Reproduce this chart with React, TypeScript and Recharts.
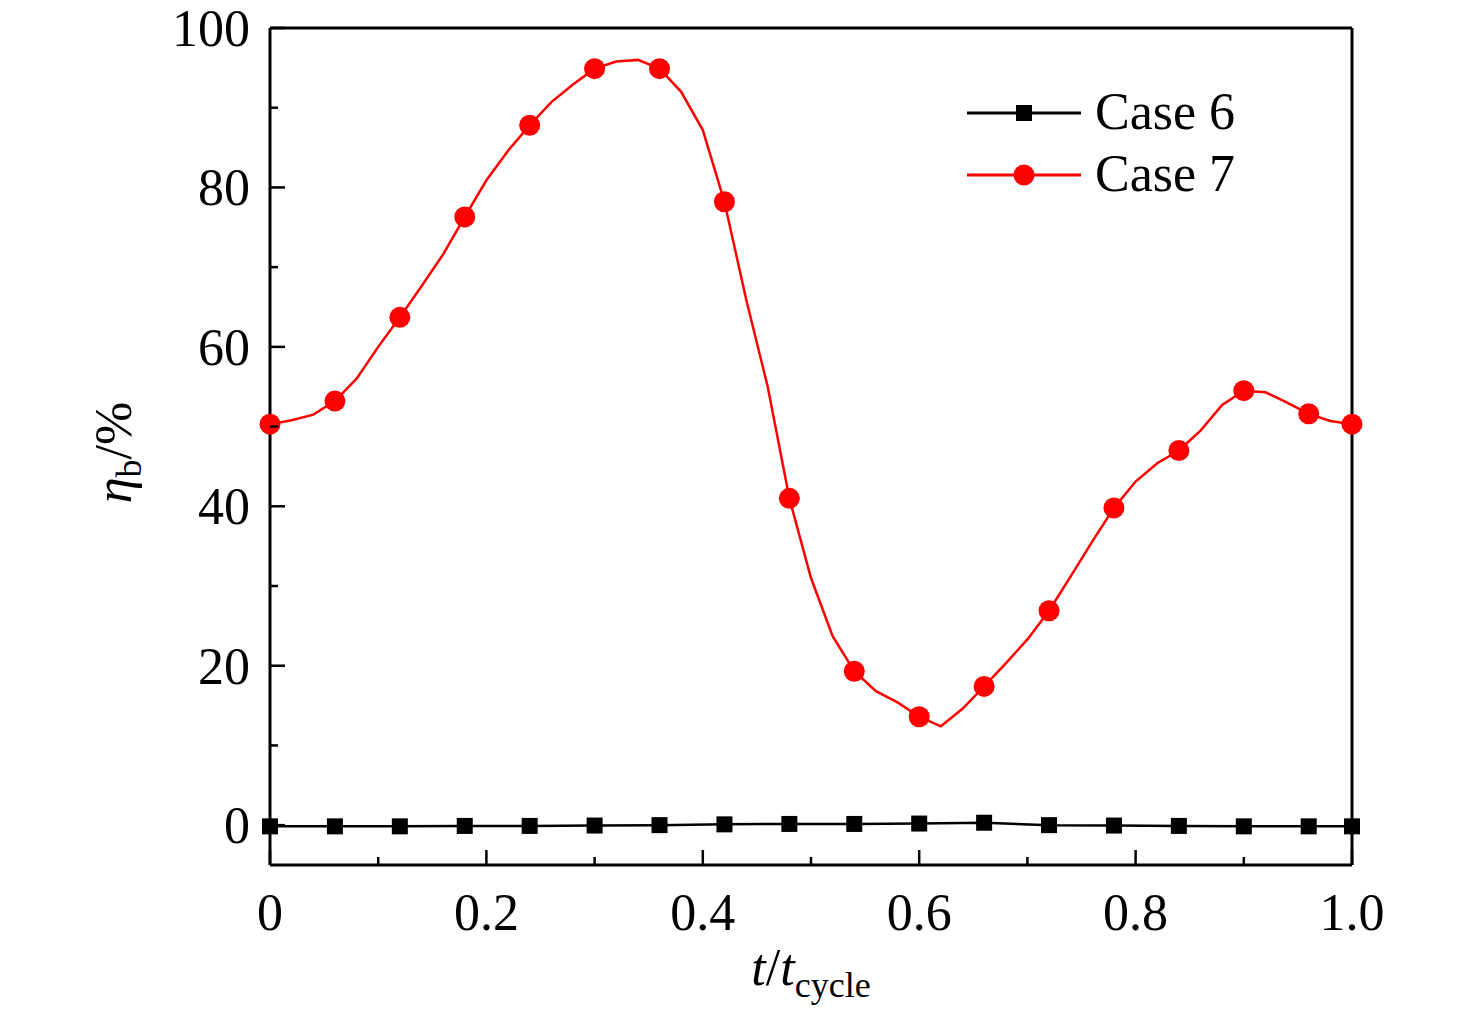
import { Legend, Line, LineChart, XAxis, YAxis } from "recharts";

const FONT = "'Liberation Serif', 'Times New Roman', serif";

// t/t_cycle sample points of the curves
const tCycle = [
  0, 0.02, 0.04, 0.06, 0.08, 0.1, 0.12, 0.14, 0.16, 0.18, 0.2, 0.22, 0.24, 0.26, 0.28, 0.3, 0.32,
  0.34, 0.36, 0.38, 0.4, 0.42, 0.44, 0.46, 0.48, 0.5, 0.52, 0.54, 0.56, 0.58, 0.6, 0.62, 0.64,
  0.66, 0.68, 0.7, 0.72, 0.74, 0.76, 0.78, 0.8, 0.82, 0.84, 0.86, 0.88, 0.9, 0.92, 0.94, 0.96,
  0.98, 1.0,
];

// points that carry a marker
const markerT = [
  0, 0.06, 0.12, 0.18, 0.24, 0.3, 0.36, 0.42, 0.48, 0.54, 0.6, 0.66, 0.72, 0.78, 0.84, 0.9, 0.96, 1.0,
];

const case6 = [
  -0.15, -0.15, -0.15, -0.1, -0.1, -0.05, 0, 0.1, 0.15, 0.15, 0.2, 0.3, 0, -0.05, -0.1, -0.15, -0.15,
  -0.15,
];

const case7 = [
  50.3, 50.8, 51.5, 53.2, 56.0, 60.0, 63.7, 67.6, 71.6, 76.3, 80.9, 84.6, 87.8, 90.7, 92.9, 94.9,
  95.8, 96.0, 94.9, 92.0, 87.2, 78.2, 66.0, 55.0, 41.0, 31.0, 23.7, 19.3, 16.8, 15.4, 13.6, 12.4,
  14.6, 17.4, 20.3, 23.3, 26.9, 31.2, 35.6, 39.8, 43.1, 45.4, 47.0, 49.5, 52.7, 54.5, 54.3, 53.0,
  51.6, 50.7, 50.3,
];

const xTicks = [0, 0.1, 0.2, 0.3, 0.4, 0.5, 0.6, 0.7, 0.8, 0.9, 1.0];
const xLabels: Record<string, string> = { "0": "0", "0.2": "0.2", "0.4": "0.4", "0.6": "0.6", "0.8": "0.8", "1": "1.0" };
const yTicks = [0, 10, 20, 30, 40, 50, 60, 70, 80, 90, 100];
const yLabels = [0, 20, 40, 60, 80, 100];

const seriesNames = ["Case 6", "Case 7"];
const seriesColors = ["#000000", "#ff0000"];

const data = tCycle.map((t, i) => {
  const m = markerT.indexOf(t);
  return { t, case6: m >= 0 ? case6[m] : null, case7: case7[i] };
});

const XTick = (props: any) => {
  const { x, y, payload } = props;
  const label = xLabels[String(payload.value)];
  return (
    <g>
      <line x1={x} y1={y} x2={x} y2={y - (label ? 15 : 8)} stroke="#000" strokeWidth={2.5} />
      {label && (
        <text x={x} y={y + 65} textAnchor="middle" fontFamily={FONT} fontSize={52} fill="#000">
          {label}
        </text>
      )}
    </g>
  );
};

const YTick = (props: any) => {
  const { x, y, payload } = props;
  const major = yLabels.includes(payload.value);
  return (
    <g>
      <line x1={x} y1={y} x2={x + (major ? 15 : 8)} y2={y} stroke="#000" strokeWidth={2.5} />
      {major && (
        <text x={x - 20} y={y + 18} textAnchor="end" fontFamily={FONT} fontSize={52} fill="#000">
          {payload.value}
        </text>
      )}
    </g>
  );
};

const XTitle = (props: any) => {
  const { viewBox } = props;
  const cx = viewBox.x + viewBox.width / 2;
  return (
    <text x={cx} y={985} textAnchor="middle" fontFamily={FONT} fontSize={52} fill="#000">
      <tspan fontStyle="italic">t</tspan>
      <tspan>/</tspan>
      <tspan fontStyle="italic">t</tspan>
      <tspan fontSize={36} dy={12}>cycle</tspan>
    </text>
  );
};

const YTitle = (props: any) => {
  const { viewBox } = props;
  const cy = viewBox.y + viewBox.height / 2 + 6;
  return (
    <text
      x={131}
      y={cy}
      transform={`rotate(-90, 131, ${cy})`}
      textAnchor="middle"
      fontFamily={FONT}
      fontSize={52}
      fill="#000"
    >
      <tspan fontStyle="italic">η</tspan>
      <tspan fontSize={36} dy={10}>b</tspan>
      <tspan dy={-10}>/%</tspan>
    </text>
  );
};

const circleDot = (props: any) => {
  const { cx, cy, payload, index } = props;
  if (cx == null || cy == null || !markerT.includes(payload.t)) return <g key={index} />;
  return <circle key={index} cx={cx} cy={cy} r={10.5} fill="#ff0000" />;
};

const squareDot = (props: any) => {
  const { cx, cy, index } = props;
  if (cx == null || cy == null) return <g key={index} />;
  return <rect key={index} x={cx - 8} y={cy - 8} width={16} height={16} fill="#000" />;
};

const LegendBox = () => (
  <svg width={320} height={140}>
    {seriesNames.map((name, i) => {
      const y = 43 + i * 62;
      return (
        <g key={name}>
          <line x1={7} y1={y} x2={121} y2={y} stroke={seriesColors[i]} strokeWidth={3} />
          {i === 0 ? (
            <rect x={56} y={y - 8} width={16} height={16} fill={seriesColors[i]} />
          ) : (
            <circle cx={64} cy={y} r={10.5} fill={seriesColors[i]} />
          )}
          <text x={135} y={y + 16} fontFamily={FONT} fontSize={52} fill="#000">
            {name}
          </text>
        </g>
      );
    })}
  </svg>
);

export default function App() {
  return (
    <div style={{ position: "absolute", left: 0, top: 0, background: "#fff" }}>
      <LineChart width={1476} height={1016} data={data} margin={{ top: 0, right: 0, bottom: 0, left: 0 }}>
        <XAxis
          dataKey="t"
          type="number"
          domain={[0, 1]}
          ticks={xTicks}
          interval={0}
          tick={<XTick />}
          tickLine={false}
          tickSize={0}
          tickMargin={0}
          axisLine={{ stroke: "#000", strokeWidth: 3 }}
          height={151}
          label={<XTitle />}
        />
        <XAxis
          xAxisId="top"
          dataKey="t"
          type="number"
          orientation="top"
          domain={[0, 1]}
          tick={false}
          tickLine={false}
          axisLine={{ stroke: "#000", strokeWidth: 3 }}
          height={28}
        />
        <YAxis
          type="number"
          domain={[-5, 100]}
          ticks={yTicks}
          interval={0}
          tick={<YTick />}
          tickLine={false}
          tickSize={0}
          tickMargin={0}
          axisLine={{ stroke: "#000", strokeWidth: 3 }}
          width={270}
          allowDataOverflow
          label={<YTitle />}
        />
        <YAxis
          yAxisId="right"
          orientation="right"
          domain={[0, 1]}
          tick={false}
          tickLine={false}
          axisLine={{ stroke: "#000", strokeWidth: 3 }}
          width={124}
        />
        <Legend
          layout="horizontal"
          verticalAlign="middle"
          align="center"
          content={<LegendBox />}
          wrapperStyle={{ position: "absolute", left: 960, top: 70, width: 320, height: 140 }}
        />
        <Line
          dataKey="case6"
          name={seriesNames[0]}
          type="linear"
          stroke={seriesColors[0]}
          strokeWidth={2.5}
          connectNulls
          dot={squareDot}
          activeDot={false}
          isAnimationActive={false}
        />
        <Line
          dataKey="case7"
          name={seriesNames[1]}
          type="linear"
          stroke={seriesColors[1]}
          strokeWidth={2.5}
          dot={circleDot}
          activeDot={false}
          isAnimationActive={false}
        />
      </LineChart>
    </div>
  );
}
